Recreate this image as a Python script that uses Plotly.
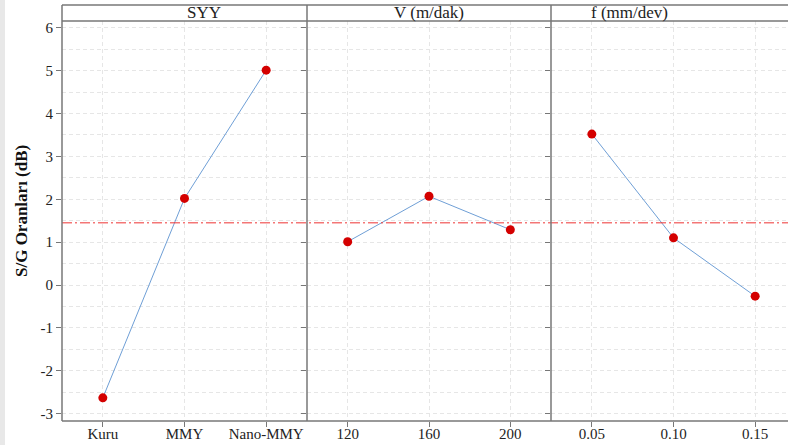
import plotly.graph_objects as go
from plotly.subplots import make_subplots

panel_titles = ["SYY", "V (m/dak)", "f (mm/dev)"]
syy_levels = ["Kuru", "MMY", "Nano-MMY"]
syy_values = [-2.63, 2.02, 5.01]
v_levels = ["120", "160", "200"]
v_values = [1.01, 2.07, 1.29]
f_levels = ["0.05", "0.10", "0.15"]
f_values = [3.52, 1.10, -0.26]
mean_sn = 1.45
y_ticks = [-3, -2, -1, 0, 1, 2, 3, 4, 5, 6]
y_title = "S/G Oranları (dB)"

W, H = 788, 445
L, R, T, B = 62, 0, 21, 24
pw = W - L - R
ph = H - T - B
SERIF = "Liberation Serif, Times New Roman, Times, serif"

fig = make_subplots(rows=1, cols=3, shared_yaxes=True, horizontal_spacing=0)

line_color = "#6f9fd6"
pt_color = "#d40000"
for i, (lv, vals) in enumerate([(syy_levels, syy_values), (v_levels, v_values), (f_levels, f_values)]):
    fig.add_trace(go.Scatter(x=lv, y=vals, mode="lines+markers",
                             line=dict(color=line_color, width=1),
                             marker=dict(color=pt_color, size=9),
                             showlegend=False, hoverinfo="x+y"), row=1, col=i + 1)

edges = [62, 307, 551, 788]
doms = [((edges[i] - L) / pw, (edges[i + 1] - L) / pw) for i in range(3)]
unit = 245 / 3.0
ranges = [[-0.5, 2.5], [-0.5, 2.5], [-0.5, -0.5 + (edges[3] - edges[2]) / unit]]

grid_c = "#e6e6e6"
grid_d = "4px,3px"
tickfont = dict(family=SERIF, size=15, color="#222222")
for i in range(3):
    key = "xaxis" if i == 0 else f"xaxis{i+1}"
    fig.layout[key].update(
        domain=list(doms[i]), type="category", range=ranges[i], automargin=False,
        showgrid=True, gridcolor=grid_c, griddash=grid_d, gridwidth=1,
        ticks="outside", ticklen=5, tickcolor="#777777", tickwidth=1,
        ticklabelstandoff=-6,
        tickfont=tickfont, showline=False, zeroline=False, fixedrange=True,
    )

fig.update_yaxes(
    range=[-3.17, 6.156], tickvals=y_ticks, ticktext=[str(v) for v in y_ticks],
    ticks="outside", ticklen=5, automargin=False,
    tickcolor="#777777", tickfont=tickfont, showgrid=True, gridcolor=grid_c,
    griddash=grid_d, zeroline=False, showline=False, fixedrange=True,
    minor=dict(dtick=0.5, showgrid=True, gridcolor=grid_c, griddash=grid_d, ticks=""),
)

shapes = []
frame = dict(color="#777777", width=1.5)
top_y = 1 + (T - 5) / ph
shapes.append(dict(type="rect", xref="paper", yref="paper", x0=-L / pw, x1=(-L + 5) / pw,
                   y0=-B / ph, y1=1 + T / ph, fillcolor="#e8e8e8", line=dict(width=0), layer="below"))
shapes.append(dict(type="line", xref="paper", yref="y", x0=0, x1=1, y0=mean_sn, y1=mean_sn,
                   line=dict(color="#ee3333", width=1, dash="10px,3px,2px,3px")))
shapes.append(dict(type="line", xref="paper", yref="paper", x0=0, x1=1, y0=top_y, y1=top_y, line=frame))
shapes.append(dict(type="line", xref="paper", yref="paper", x0=0, x1=1, y0=1, y1=1, line=frame))
shapes.append(dict(type="line", xref="paper", yref="paper", x0=0, x1=1, y0=0, y1=0, line=frame))
for e in edges[:3]:
    xp = (e - L) / pw
    shapes.append(dict(type="line", xref="paper", yref="paper", x0=xp, x1=xp, y0=0, y1=top_y, line=frame))
fig.update_layout(shapes=shapes)

for i, t in enumerate(panel_titles):
    fig.add_annotation(text=t, xref="paper", yref="paper", x=(doms[i][0] + doms[i][1]) / 2,
                       y=1 + 8.5 / ph, yanchor="middle", showarrow=False,
                       font=dict(family=SERIF, size=17, color="#222222"))

fig.add_annotation(text="<b>" + y_title + "</b>", xref="paper", yref="paper",
                   x=(21 - L) / pw, y=(H - B - 211) / ph, xanchor="center", yanchor="middle",
                   textangle=-90, showarrow=False,
                   font=dict(family=SERIF, size=17, color="#111111"))

fig.update_layout(
    width=W, height=H, margin=dict(l=L, r=R, t=T, b=B, autoexpand=False),
    paper_bgcolor="white", plot_bgcolor="white",
)

fig.write_html("out.html", config={"displayModeBar": False},
               post_script="document.body.style.margin='0';document.body.style.overflow='hidden';")
